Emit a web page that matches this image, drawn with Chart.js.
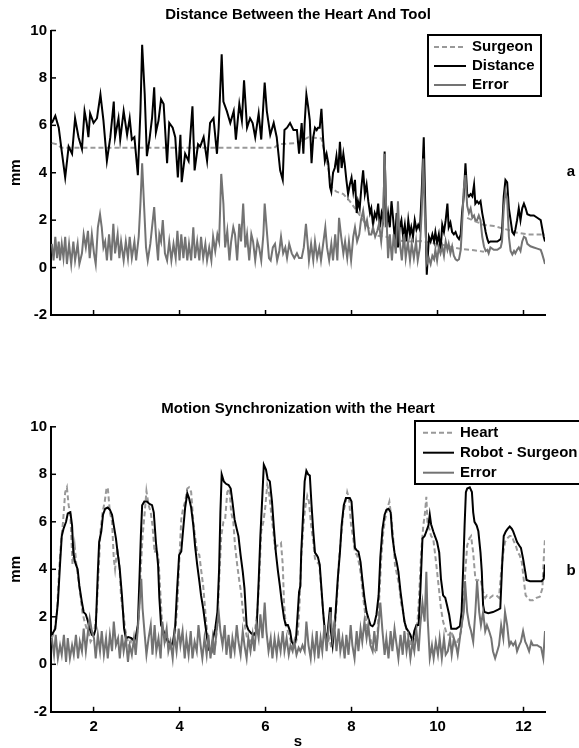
<!DOCTYPE html>
<html>
<head>
<meta charset="utf-8">
<title>Distance Between the Heart And Tool / Motion Synchronization with the Heart</title>
<script src="https://cdn.jsdelivr.net/npm/chart.js@4.4.1/dist/chart.umd.min.js"></script>
<style>
  html, body { margin: 0; padding: 0; background: #fff; }
  #wrap { position: relative; width: 579px; height: 748px; overflow: hidden; }
  .panel { position: absolute; left: 0; width: 579px; height: 374px; }
</style>
</head>
<body>
<div id="wrap">
  <div class="panel" style="top:0"><canvas id="chartA" width="579" height="374"></canvas></div>
  <div class="panel" style="top:374px"><canvas id="chartB" width="579" height="374"></canvas></div>
</div>
<script>
// ---- data ----
const xTicks = [2, 4, 6, 8, 10, 12];

// panel a: surgeon (dashed), distance (black), error (grey)
const surgT = [1.03, 1.15, 1.25, 1.35, 2.50, 4.00, 5.50, 6.20, 6.30, 6.70,
  6.90, 7.00, 7.30, 7.34, 7.46, 7.53, 7.65, 7.81, 7.96, 8.12,
  8.27, 8.43, 8.58, 8.81, 9.05, 9.28, 9.61, 10.07, 10.38, 10.61,
  10.85, 11.08, 11.08, 10.69, 10.85, 11.08, 11.31, 11.62, 11.85, 12.09, 12.50];
const surgV = [5.25, 5.2, 5.05, 5.05, 5.05, 5.05, 5.05, 5.05, 5.2, 5.25,
  5.4, 5.5, 5.45, 5.1, 4.2, 3.4, 3.2, 3.1, 2.8, 2.4,
  2.0, 1.6, 1.35, 1.3, 1.15, 1.1, 1.12, 0.98, 0.84, 0.77,
  0.73, 0.67, null, 2.1, 1.97, 1.8, 1.75, 1.6, 1.47, 1.4, 1.4];

const distT = [1.03, 1.11, 1.19, 1.26, 1.34, 1.42, 1.50, 1.57, 1.65, 1.73,
  1.79, 1.84, 1.88, 1.92, 2.00, 2.08, 2.16, 2.23, 2.31, 2.39,
  2.47, 2.50, 2.58, 2.62, 2.70, 2.78, 2.84, 2.89, 2.95, 3.03,
  3.09, 3.13, 3.19, 3.24, 3.30, 3.36, 3.41, 3.45, 3.51, 3.57,
  3.63, 3.71, 3.76, 3.84, 3.90, 3.96, 4.02, 4.05, 4.13, 4.21,
  4.30, 4.35, 4.43, 4.48, 4.56, 4.64, 4.71, 4.79, 4.87, 4.91,
  4.98, 5.02, 5.10, 5.18, 5.26, 5.31, 5.39, 5.45, 5.50, 5.57,
  5.64, 5.70, 5.76, 5.84, 5.90, 5.98, 6.03, 6.11, 6.19, 6.26,
  6.34, 6.40, 6.44, 6.50, 6.57, 6.65, 6.73, 6.78,
  6.84, 6.88, 6.91, 6.95, 6.99, 7.03, 7.07, 7.11, 7.15, 7.19,
  7.22, 7.26, 7.30, 7.34, 7.38, 7.42, 7.46, 7.50, 7.53, 7.57,
  7.61, 7.65, 7.69, 7.73, 7.77, 7.81, 7.84, 7.88, 7.92, 7.96,
  8.00, 8.04, 8.08, 8.12, 8.15, 8.19, 8.23, 8.27, 8.31, 8.35,
  8.39, 8.43, 8.46, 8.50, 8.54, 8.58, 8.62, 8.66, 8.70, 8.74,
  8.77, 8.81, 8.85, 8.89, 8.93, 8.97, 9.01, 9.05, 9.08, 9.12,
  9.16, 9.20, 9.24, 9.28, 9.32, 9.36, 9.39, 9.43, 9.47, 9.51,
  9.55, 9.59, 9.63, 9.68, 9.71, 9.75,
  9.80, 9.84, 9.88, 9.92, 9.95, 9.99, 10.03, 10.07, 10.11, 10.15,
  10.19, 10.23, 10.26, 10.30, 10.34, 10.38, 10.42, 10.46, 10.50, 10.54,
  10.57, 10.61, 10.65, 10.69, 10.73, 10.77, 10.81, 10.85, 10.88, 10.92,
  10.96, 11.00, 11.04, 11.08, 11.12, 11.16, 11.19, 11.23, 11.31, 11.39,
  11.47, 11.50, 11.54, 11.58, 11.62, 11.66, 11.70, 11.74, 11.78, 11.81,
  11.85, 11.89, 11.93, 11.97, 12.01, 12.05, 12.09, 12.16, 12.24, 12.32,
  12.40, 12.43, 12.47, 12.50];
const distV = [6.1, 6.4, 5.9, 4.9, 3.8, 5.1, 4.8, 6.3, 5.5, 5.0,
  6.6, 6.1, 5.5, 6.5, 6.1, 6.3, 7.3, 6.2, 4.5, 5.5,
  7.0, 5.5, 6.3, 5.4, 6.6, 5.6, 6.3, 5.4, 5.5, 3.9,
  6.6, 9.4, 7.3, 4.7, 5.4, 6.3, 7.6, 5.7, 6.2, 7.1,
  6.9, 4.4, 6.1, 5.9, 5.5, 3.8, 5.6, 3.6, 4.8, 4.5,
  6.8, 4.1, 5.2, 5.1, 5.5, 4.5, 6.1, 6.3, 4.8, 5.9,
  9.0, 7.0, 6.6, 6.1, 6.6, 5.4, 6.9, 6.2, 7.9, 5.9,
  6.3, 6.1, 5.5, 6.5, 5.4, 7.8, 6.6, 5.6, 6.1, 5.5,
  4.1, 3.7, 5.8, 5.9, 6.1, 5.8, 5.8, 4.8,
  6.1, 4.8, 6.1, 7.3, 6.8, 6.2, 4.4, 5.5, 5.9, 5.8,
  5.9, 5.9, 6.7, 5.4, 4.5, 4.8, 4.4, 3.4, 3.2, 4.0,
  4.2, 4.7, 4.0, 5.3, 4.2, 4.8, 4.4, 3.7, 3.1, 3.5,
  3.8, 3.2, 3.7, 2.3, 2.8, 2.5, 3.4, 4.1, 3.1, 3.5,
  2.8, 2.3, 2.5, 1.8, 2.3, 2.1, 2.7, 1.7, 2.3, 2.0,
  4.9, 1.7, 2.3, 1.7, 2.8, 2.0, 1.1, 2.3, 0.85, 1.7,
  2.0, 1.3, 1.8, 1.1, 2.0, 1.4, 1.7, 1.3, 2.0, 1.6,
  1.8, 1.6, 3.1, 5.5, 3.0, -0.3,
  1.3, 1.1, 1.4, 1.1, 1.5, 1.05, 1.4, 0.7, 1.8, 1.5,
  2.0, 2.7, 1.7, 1.9, 1.5, 1.4, 1.5, 1.3, 1.2, 1.4,
  2.3, 3.0, 4.4, 3.1, 3.0, 3.1, 3.0, 3.5, 2.7, 2.8,
  2.7, 2.8, 2.3, 1.9, 1.5, 1.2, 1.05, 1.1, 1.1, 1.1,
  1.2, 1.5, 3.0, 3.7, 3.6, 2.5, 2.0, 1.5, 1.4, 1.6,
  2.0, 2.5, 2.0, 2.5, 2.7, 2.5, 2.25, 2.2, 2.2, 2.1,
  2.0, 1.7, 1.3, 1.1];

const errAT = [1.03, 1.07, 1.11, 1.15, 1.19, 1.22, 1.26, 1.30, 1.34, 1.38,
  1.43, 1.48, 1.53, 1.57, 1.63, 1.67, 1.73, 1.77, 1.82, 1.87,
  1.91, 1.96, 2.01, 2.05, 2.10, 2.15, 2.19, 2.23, 2.27, 2.31,
  2.36, 2.41, 2.46, 2.50, 2.56, 2.60, 2.64, 2.70, 2.75, 2.80,
  2.84, 2.89, 2.95, 2.99, 3.05, 3.09, 3.13, 3.17, 3.22, 3.26,
  3.32, 3.36, 3.41, 3.45, 3.50, 3.53, 3.57, 3.61, 3.66, 3.71,
  3.76, 3.81, 3.86, 3.91, 3.95, 4.00, 4.04, 4.09, 4.13, 4.18,
  4.22, 4.27, 4.32, 4.36, 4.41, 4.46, 4.50, 4.55, 4.60, 4.64,
  4.69, 4.74, 4.78, 4.83, 4.88, 4.92, 4.97, 5.02, 5.06, 5.11,
  5.16, 5.20, 5.25, 5.29, 5.34, 5.39, 5.43, 5.48, 5.53, 5.57,
  5.62, 5.67, 5.71, 5.76, 5.81, 5.85, 5.90, 5.95, 5.98, 6.03,
  6.08, 6.12, 6.17, 6.22, 6.27, 6.32, 6.36, 6.41, 6.46, 6.50,
  6.55, 6.61, 6.67, 6.73, 6.78,
  6.84, 6.89, 6.94, 6.98, 7.01, 7.06, 7.11, 7.15, 7.20, 7.25,
  7.29, 7.34, 7.39, 7.43, 7.48, 7.53, 7.57, 7.62, 7.67, 7.71,
  7.76, 7.81, 7.85, 7.90, 7.94, 7.99, 8.04, 8.08, 8.13, 8.18,
  8.22, 8.27, 8.32, 8.36, 8.41, 8.46, 8.50, 8.55, 8.60, 8.64,
  8.69, 8.74, 8.77, 8.81, 8.85, 8.89, 8.94, 8.98, 9.03, 9.08,
  9.12, 9.17, 9.22, 9.26, 9.31, 9.36, 9.40, 9.45, 9.50, 9.54,
  9.59, 9.63, 9.67, 9.71,
  9.76, 9.80, 9.84, 9.88, 9.92, 9.95, 9.99, 10.03, 10.07, 10.11,
  10.15, 10.19, 10.23, 10.26, 10.30, 10.34, 10.38, 10.42, 10.46, 10.50,
  10.54, 10.57, 10.61, 10.65, 10.69, 10.73, 10.77, 10.81, 10.85, 10.88,
  10.92, 10.96, 11.00, 11.04, 11.08, 11.12, 11.16, 11.19, 11.23, 11.31,
  11.39, 11.47, 11.50, 11.54, 11.58, 11.62, 11.66, 11.70, 11.74, 11.78,
  11.81, 11.85, 11.89, 11.93, 11.97, 12.01, 12.05, 12.09, 12.16, 12.24,
  12.32, 12.40, 12.43, 12.47, 12.50];
const errAV = [1.0, 0.3, 1.3, 0.4, 1.1, 0.3, 1.0, 0.4, 1.3, 0.15,
  1.0, 0.15, 1.1, 0.3, 1.0, 0.15, 0.6, 1.4, 0.85, 1.55,
  0.4, 1.4, 0.6, 0.15, 1.7, 2.25, 1.7, 0.85, 1.1, 0.3,
  1.4, 0.3, 1.85, 0.6, 1.4, 0.4, 1.1, 0.3, 1.1, 0.4,
  1.3, 0.4, 1.1, 0.3, 1.3, 2.7, 4.4, 2.8, 0.85, 0.3,
  1.0, 1.7, 2.55, 1.4, 0.3, 1.4, 1.1, 2.0, 0.6, 0.3,
  1.1, 0.3, 1.0, 0.4, 1.55, 0.3, 1.4, 0.4, 1.3, 0.3,
  1.0, 0.3, 1.7, 0.4, 1.1, 0.3, 1.3, 0.4, 1.0, 0.3,
  0.85, 0.3, 1.3, 0.7, 1.4, 1.1, 3.95, 2.7, 0.85, 1.55,
  0.3, 1.1, 1.7, 1.4, 0.3, 1.85, 1.1, 2.7, 0.85, 1.4,
  0.3, 1.4, 1.1, 0.3, 1.1, 0.85, 0.3, 1.4, 2.7, 1.55,
  0.4, 0.3, 0.85, 1.0, 0.3, 0.7, 1.3, 0.6, 0.85, 0.4,
  1.0, 0.6, 0.4, 0.6, 0.4,
  0.4, 0.85, 1.85, 1.0, 0.3, 1.0, 0.3, 1.1, 0.4, 0.85,
  0.3, 1.0, 1.7, 0.85, 0.3, 1.0, 0.3, 1.4, 0.3, 2.1,
  1.3, 0.6, 1.1, 0.4, 1.1, 0.3, 1.3, 1.7, 1.1, 1.4,
  2.0, 2.4, 1.7, 2.0, 1.4, 1.4, 1.7, 1.3, 1.55, 1.85,
  1.1, 2.1, 4.8, 2.25, 0.4, 1.4, 0.3, 1.4, 0.6, 2.8,
  1.1, 0.3, 1.4, 0.4, 1.1, 0.3, 1.0, 0.4, 1.1, 0.3,
  0.85, 2.25, 4.6, 2.0,
  0.2, 0.4, 0.15, 0.5, 0.35, 0.75, 0.3, 0.85, 0.6, 0.9,
  0.5, 1.1, 0.75, 1.0, 0.6, 0.9, 0.5, 0.35, 0.3, 0.35,
  0.75, 1.75, 3.3, 3.9, 2.6, 2.3, 2.5, 2.1, 2.2, 2.0,
  2.0, 2.2, 2.0, 1.3, 0.9, 0.7, 0.75, 0.6, 0.85, 0.75,
  0.75, 0.85, 1.1, 2.5, 3.2, 2.9, 1.3, 0.7, 0.55, 0.7,
  0.6, 0.75, 0.85, 0.7, 1.1, 1.3, 1.25, 1.0, 0.9, 0.85,
  0.8, 0.75, 0.6, 0.35, 0.15];

// panel b: heart (dashed), robot - surgeon (black), error (grey)
const heartT = [1.03, 1.09, 1.15, 1.20, 1.25, 1.29, 1.34, 1.38, 1.42, 1.46,
  1.51, 1.56, 1.60, 1.65, 1.70, 1.74, 1.79, 1.84, 1.88, 1.93,
  1.98, 2.02, 2.07, 2.12, 2.16, 2.21, 2.26, 2.30, 2.33, 2.38,
  2.43, 2.47, 2.50, 2.55, 2.60, 2.64, 2.69, 2.74, 2.78, 2.83,
  2.89, 2.95, 3.00, 3.05, 3.09, 3.14, 3.19, 3.23, 3.28, 3.33,
  3.37, 3.42, 3.46, 3.51, 3.56, 3.60, 3.67, 3.73, 3.79, 3.85,
  3.90, 3.95, 3.99, 4.04, 4.08, 4.13, 4.18, 4.22, 4.27, 4.32,
  4.36, 4.41, 4.46, 4.50, 4.55, 4.60, 4.64, 4.69, 4.74, 4.78,
  4.83, 4.88, 4.92, 4.97, 5.02, 5.06, 5.11, 5.16, 5.20, 5.25,
  5.29, 5.34, 5.39, 5.43, 5.48, 5.53, 5.57, 5.64, 5.70, 5.76,
  5.81, 5.85, 5.90, 5.95, 5.99, 6.04, 6.08, 6.13, 6.18, 6.22,
  6.27, 6.32, 6.36, 6.40, 6.43, 6.47, 6.52, 6.57, 6.61, 6.66,
  6.71, 6.75, 6.79, 6.83,
  6.88, 6.92, 6.97, 7.01, 7.06, 7.11, 7.15, 7.20, 7.25, 7.29,
  7.34, 7.39, 7.43, 7.48, 7.53, 7.57, 7.62, 7.67, 7.71, 7.76,
  7.81, 7.85, 7.90, 7.94, 7.99, 8.04, 8.08, 8.13, 8.18, 8.22,
  8.27, 8.32, 8.36, 8.41, 8.46, 8.50, 8.55, 8.60, 8.64, 8.69,
  8.74, 8.78, 8.83, 8.88, 8.92, 8.97, 9.01, 9.06, 9.11, 9.15,
  9.20, 9.25, 9.29, 9.34, 9.39, 9.43, 9.48, 9.53, 9.57, 9.62,
  9.67, 9.71, 9.74, 9.77, 9.81, 9.85, 9.90, 9.94, 9.99, 10.04,
  10.08, 10.13, 10.18, 10.22, 10.27, 10.32, 10.36, 10.41, 10.46, 10.50,
  10.55, 10.60, 10.64, 10.69, 10.74, 10.78, 10.83, 10.88, 10.92, 10.97,
  11.01, 11.06, 11.11, 11.15, 11.22, 11.29, 11.37, 11.43, 11.48, 11.53,
  11.57, 11.62, 11.68, 11.73, 11.77, 11.82, 11.87, 11.91, 11.96, 12.01,
  12.05, 12.10, 12.15, 12.22, 12.30, 12.38, 12.44, 12.47, 12.50];
const heartV = [1.1, 1.4, 2.2, 4.0, 5.3, 6.0, 7.25, 7.45, 6.7, 6.3,
  4.2, 5.0, 4.2, 3.5, 2.8, 2.2, 1.8, 1.5, 1.4, 0.95,
  1.1, 1.4, 2.2, 4.0, 5.6, 6.4, 6.85, 7.4, 7.45, 6.4,
  6.0, 4.45, 4.0, 4.9, 4.2, 2.8, 2.2, 1.4, 1.1, 0.7,
  1.1, 0.95, 1.1, 1.95, 3.75, 5.4, 6.4, 7.3, 6.7, 6.4,
  5.85, 4.7, 4.9, 4.45, 2.8, 1.5, 0.95, 1.1, 0.7, 0.95,
  1.4, 2.5, 4.2, 6.1, 6.55, 6.85, 7.4, 7.45, 7.25, 6.0,
  5.4, 4.7, 4.6, 4.0, 3.3, 2.2, 1.4, 0.8, 0.4, 0.55,
  0.8, 1.65, 3.5, 5.4, 6.0, 6.1, 7.25, 7.4, 6.4, 6.0,
  5.0, 4.2, 3.5, 3.05, 2.1, 1.5, 1.1, 0.95, 1.1, 1.5,
  2.2, 3.5, 5.6, 6.0, 6.55, 7.55, 7.25, 6.4, 5.6, 4.9,
  5.0, 5.0, 5.1, 4.2, 2.6, 1.65, 1.4, 1.1, 0.8, 0.7,
  0.95, 1.24, 2.5, 4.45,
  5.85, 6.55, 7.1, 6.85, 5.85, 5.15, 4.45, 4.3, 4.2, 3.3,
  2.2, 1.1, 0.8, 1.1, 0.7, 1.1, 1.65, 3.05, 4.45, 5.4,
  6.4, 6.7, 7.25, 7.0, 5.85, 5.3, 4.7, 4.6, 4.2, 3.75,
  2.8, 2.1, 1.5, 1.24, 0.95, 0.7, 0.55, 1.1, 2.6, 4.45,
  5.6, 6.1, 6.55, 6.85, 6.3, 5.3, 4.2, 3.75, 3.3, 2.6,
  2.2, 1.65, 1.4, 1.1, 0.8, 0.95, 1.24, 1.65, 2.8, 4.7,
  5.85, 6.4, 7.05, 5.85, 5.7, 5.4, 5.3, 4.7, 3.9, 3.05,
  2.35, 1.8, 1.5, 1.24, 1.24, 1.4, 1.1, 0.8, 0.95, 1.1,
  1.4, 2.2, 3.75, 5.0, 5.3, 5.4, 4.7, 3.6, 3.5, 3.6,
  3.5, 3.05, 2.8, 2.9, 2.8, 2.9, 2.9, 2.8, 3.9, 4.7,
  5.15, 5.3, 5.4, 5.4, 5.2, 5.0, 4.7, 4.6, 4.3, 3.5,
  2.9, 2.8, 2.7, 2.7, 2.8, 2.85, 3.2, 4.4, 5.3];

const robotT = [1.03, 1.11, 1.17, 1.22, 1.26, 1.30, 1.36, 1.40, 1.46, 1.50,
  1.53, 1.57, 1.63, 1.67, 1.73, 1.77, 1.82, 1.87, 1.91, 1.96,
  2.01, 2.05, 2.10, 2.13, 2.18, 2.22, 2.27, 2.33, 2.38, 2.43,
  2.47, 2.52, 2.56, 2.61, 2.66, 2.71, 2.75, 2.81, 2.88, 2.94,
  2.98, 3.03, 3.07, 3.10, 3.13, 3.18, 3.24, 3.30, 3.36, 3.40,
  3.45, 3.50, 3.53, 3.57, 3.63, 3.68, 3.74, 3.81, 3.85, 3.90,
  3.94, 3.99, 4.04, 4.08, 4.13, 4.18, 4.22, 4.27, 4.32, 4.36,
  4.41, 4.46, 4.50, 4.55, 4.60, 4.64, 4.69, 4.74, 4.78, 4.83,
  4.88, 4.92, 4.95, 4.98, 5.03, 5.08, 5.14, 5.19, 5.23, 5.28,
  5.33, 5.37, 5.42, 5.47, 5.51, 5.56, 5.60, 5.67, 5.73, 5.79,
  5.84, 5.88, 5.93, 5.96, 6.01, 6.05, 6.10, 6.15, 6.19, 6.24,
  6.29, 6.33, 6.38, 6.43, 6.47, 6.52, 6.57, 6.61, 6.66, 6.71,
  6.75, 6.78, 6.81, 6.83, 6.88, 6.91, 6.95, 6.99, 7.03, 7.07,
  7.11, 7.15, 7.19, 7.22, 7.26, 7.30, 7.34, 7.38, 7.42, 7.46,
  7.50, 7.52, 7.56, 7.59, 7.63, 7.68, 7.73, 7.77, 7.82, 7.87,
  7.91, 7.96, 8.00, 8.04, 8.08, 8.12, 8.16, 8.21, 8.25, 8.30,
  8.35, 8.39, 8.44, 8.49, 8.53, 8.58, 8.63, 8.67, 8.72, 8.77,
  8.81, 8.86, 8.91, 8.95, 9.00, 9.05, 9.09, 9.14, 9.19, 9.23,
  9.28, 9.32, 9.37, 9.42, 9.46, 9.51, 9.56, 9.60, 9.65, 9.70,
  9.74, 9.79, 9.82, 9.85, 9.90, 9.94, 9.99, 10.04, 10.08, 10.13,
  10.18, 10.22, 10.27, 10.32, 10.36, 10.44, 10.52, 10.56, 10.60, 10.63,
  10.66, 10.69, 10.75, 10.80, 10.83, 10.86, 10.91, 10.95, 11.00, 11.03,
  11.06, 11.09, 11.18, 11.29, 11.41, 11.46, 11.51, 11.54, 11.59, 11.63,
  11.68, 11.73, 11.76, 11.81, 11.85, 11.90, 11.94, 11.99, 12.04, 12.07,
  12.15, 12.24, 12.34, 12.42, 12.47, 12.50];
const robotV = [1.24, 1.5, 2.6, 4.2, 5.4, 5.7, 6.0, 6.35, 6.4, 5.85,
  4.7, 4.3, 4.0, 3.3, 2.6, 2.2, 2.1, 1.8, 1.5, 1.24,
  1.24, 1.5, 3.9, 5.15, 5.6, 6.3, 6.55, 6.6, 6.5, 6.3,
  5.85, 5.3, 4.7, 4.0, 2.9, 1.5, 1.1, 1.15, 1.1, 1.0,
  1.15, 1.65, 3.75, 5.4, 6.7, 6.85, 6.85, 6.75, 6.7, 6.4,
  5.15, 4.2, 2.8, 1.65, 1.4, 1.1, 0.95, 0.8, 0.95, 1.65,
  3.05, 4.6, 4.75, 5.6, 6.6, 7.2, 7.0, 6.6, 5.85, 5.0,
  4.2, 3.5, 2.9, 2.35, 1.65, 1.1, 0.6, 0.55, 1.1, 1.5,
  2.2, 4.0, 6.4, 8.0, 7.7, 7.6, 7.55, 7.4, 6.85, 6.1,
  5.7, 5.4, 4.6, 3.9, 3.2, 1.65, 1.45, 1.3, 1.24, 1.4,
  3.5, 5.4, 7.25, 8.4, 8.2, 7.8, 7.7, 6.85, 5.85, 4.7,
  3.9, 3.35, 2.6, 1.95, 1.65, 1.65, 1.4, 0.95, 0.8, 1.1,
  2.2, 3.05, 3.3, 4.7, 6.55, 7.7, 8.15, 8.0, 7.95, 6.7,
  5.6, 4.7, 4.6, 4.5, 4.2, 3.2, 2.2, 1.4, 0.95, 1.65,
  2.4, 1.4, 0.8, 1.4, 2.2, 3.6, 4.7, 5.85, 6.7, 7.0,
  7.0, 7.0, 6.85, 5.85, 4.9, 4.8, 4.75, 4.3, 3.6, 2.8,
  2.2, 1.95, 1.65, 1.6, 1.7, 2.1, 2.9, 4.5, 5.7, 6.3,
  6.5, 6.55, 6.4, 5.4, 4.7, 4.3, 3.9, 3.05, 2.35, 1.8,
  1.5, 1.4, 1.24, 0.95, 1.4, 1.65, 1.65, 3.05, 5.3, 5.4,
  5.6, 5.85, 6.3, 5.9, 5.6, 5.4, 5.15, 4.7, 3.6, 2.9,
  2.8, 2.5, 2.1, 1.5, 1.5, 1.5, 1.6, 2.2, 4.2, 5.85,
  7.25, 7.4, 7.45, 7.25, 6.4, 6.0, 5.85, 5.6, 4.7, 3.9,
  2.5, 2.2, 2.15, 2.2, 2.3, 2.35, 4.45, 5.4, 5.6, 5.7,
  5.8, 5.7, 5.6, 5.35, 5.15, 5.0, 4.9, 4.45, 3.9, 3.55,
  3.5, 3.5, 3.5, 3.5, 3.6, 4.2];

const errBT = [1.03, 1.08, 1.12, 1.17, 1.22, 1.26, 1.31, 1.36, 1.40, 1.45,
  1.50, 1.54, 1.59, 1.64, 1.68, 1.73, 1.77, 1.82, 1.87, 1.91,
  1.96, 2.01, 2.05, 2.10, 2.15, 2.19, 2.24, 2.29, 2.33, 2.38,
  2.43, 2.47, 2.52, 2.57, 2.61, 2.66, 2.70, 2.75, 2.80, 2.84,
  2.89, 2.94, 2.98, 3.03, 3.08, 3.11, 3.14, 3.19, 3.23, 3.28,
  3.33, 3.37, 3.42, 3.46, 3.51, 3.56, 3.60, 3.65, 3.70, 3.74,
  3.79, 3.84, 3.88, 3.93, 3.98, 4.02, 4.07, 4.12, 4.16, 4.21,
  4.26, 4.30, 4.35, 4.40, 4.44, 4.49, 4.53, 4.58, 4.63, 4.67,
  4.72, 4.77, 4.81, 4.86, 4.91, 4.95, 5.00, 5.05, 5.09, 5.14,
  5.19, 5.23, 5.28, 5.33, 5.37, 5.42, 5.47, 5.51, 5.56, 5.60,
  5.65, 5.70, 5.74, 5.79, 5.84, 5.88, 5.93, 5.98, 6.02, 6.07,
  6.12, 6.16, 6.21, 6.26, 6.30, 6.35, 6.40, 6.44, 6.49, 6.54,
  6.58, 6.63, 6.67, 6.72, 6.77, 6.81,
  6.86, 6.91, 6.95, 7.00, 7.05, 7.09, 7.14, 7.19, 7.23, 7.28,
  7.32, 7.37, 7.42, 7.46, 7.51, 7.56, 7.60, 7.65, 7.70, 7.74,
  7.79, 7.84, 7.88, 7.93, 7.98, 8.02, 8.07, 8.12, 8.16, 8.21,
  8.25, 8.30, 8.35, 8.39, 8.44, 8.49, 8.53, 8.58, 8.63, 8.67,
  8.72, 8.77, 8.81, 8.86, 8.91, 8.95, 9.00, 9.05, 9.09, 9.14,
  9.19, 9.23, 9.28, 9.32, 9.37, 9.42, 9.46, 9.51, 9.56, 9.60,
  9.65, 9.70, 9.74, 9.77, 9.82, 9.87, 9.91, 9.96, 10.01, 10.05,
  10.10, 10.15, 10.19, 10.24, 10.29, 10.33, 10.38, 10.43, 10.47, 10.52,
  10.56, 10.61, 10.64, 10.69, 10.74, 10.78, 10.83, 10.88, 10.92, 10.97,
  11.01, 11.06, 11.11, 11.15, 11.20, 11.25, 11.29, 11.34, 11.39, 11.43,
  11.48, 11.53, 11.57, 11.62, 11.67, 11.71, 11.76, 11.81, 11.85, 11.90,
  11.94, 11.99, 12.04, 12.08, 12.13, 12.18, 12.22, 12.27, 12.32, 12.36,
  12.41, 12.46, 12.49, 12.50];
const errBV = [1.1, 0.4, 1.24, 0.25, 0.8, 0.4, 1.24, 0.1, 1.1, 0.25,
  0.8, 0.4, 1.24, 0.25, 0.95, 0.55, 1.5, 0.55, 1.4, 1.95,
  1.4, 1.1, 0.25, 1.24, 0.55, 1.4, 0.4, 1.1, 0.25, 1.24,
  0.55, 1.8, 0.8, 1.1, 0.25, 1.24, 0.55, 1.1, 0.1, 0.8,
  0.4, 1.1, 0.4, 1.5, 2.8, 3.6, 2.35, 1.24, 0.4, 1.1,
  1.65, 0.4, 1.65, 0.55, 1.1, 0.25, 1.8, 0.95, 1.5, 0.55,
  0.95, 0.25, 1.24, 0.55, 1.5, 0.8, 1.4, 0.25, 1.1, 0.4,
  1.4, 0.25, 0.95, 0.55, 1.65, 0.8, 0.25, 1.1, 0.4, 1.24,
  0.25, 1.1, 0.4, 1.4, 2.2, 1.4, 0.8, 1.65, 0.4, 1.24,
  0.25, 1.1, 0.55, 1.65, 0.95, 0.4, 1.4, 0.8, 0.25, 1.1,
  0.55, 1.24, 0.55, 1.65, 1.1, 2.1, 1.1, 2.6, 1.4, 0.55,
  1.1, 0.25, 1.1, 0.4, 1.1, 0.55, 1.4, 0.55, 1.1, 0.4,
  0.8, 0.55, 0.95, 0.4, 0.7, 0.55,
  0.8, 0.55, 1.8, 0.8, 0.25, 1.1, 0.4, 1.4, 0.25, 1.1,
  0.55, 1.65, 0.55, 1.4, 2.2, 1.1, 1.65, 0.55, 1.5, 0.55,
  1.1, 0.25, 1.24, 0.4, 1.65, 0.8, 0.25, 1.4, 0.55, 1.5,
  0.95, 1.8, 1.1, 1.65, 0.8, 0.55, 1.4, 0.55, 1.65, 2.6,
  1.4, 0.4, 1.1, 0.25, 1.4, 0.55, 1.5, 0.8, 0.25, 1.24,
  0.4, 1.4, 0.55, 1.1, 0.25, 0.95, 0.55, 1.4, 0.55, 1.65,
  2.6, 1.8, 3.9, 1.95, 0.25, 0.8, 0.25, 0.95, 0.4, 1.1,
  0.25, 1.1, 0.4, 0.55, 1.1, 0.4, 1.1, 0.8, 0.4, 1.1,
  1.65, 2.2, 3.5, 2.2, 1.65, 1.4, 0.95, 2.2, 3.5, 2.2,
  1.65, 2.2, 1.4, 1.65, 1.4, 1.1, 0.55, 0.25, 0.55, 0.8,
  1.65, 1.1, 2.2, 1.65, 0.8, 0.95, 0.8, 0.95, 0.55, 0.8,
  0.95, 1.4, 0.95, 0.8, 0.55, 0.95, 0.8, 0.8, 0.8, 0.75,
  0.7, 0.25, 1.1, 1.4];

// ---- drawing ----
const FONT = '"Liberation Sans", Arial, sans-serif';
Chart.defaults.font.family = FONT;
Chart.defaults.font.size = 15;
Chart.defaults.font.weight = 'bold';
Chart.defaults.color = '#000';

const DASH_GREY = '#999999';
const ERR_GREY = '#737373';

function pts(ts, vs) {
  return ts.map((t, i) => ({ x: t, y: vs[i] }));
}

// inward ticks, panel title, side letter and boxed legend
const panelDeco = {
  id: 'panelDeco',
  afterDraw(chart, args, o) {
    const { ctx, chartArea: ca, scales } = chart;
    ctx.save();
    ctx.strokeStyle = '#000';
    ctx.lineWidth = 1.5;
    scales.x.ticks.forEach(t => {
      const x = scales.x.getPixelForValue(t.value);
      ctx.beginPath(); ctx.moveTo(x, ca.bottom); ctx.lineTo(x, ca.bottom - 5); ctx.stroke();
    });
    scales.y.ticks.forEach(t => {
      const y = scales.y.getPixelForValue(t.value);
      ctx.beginPath(); ctx.moveTo(ca.left, y); ctx.lineTo(ca.left + 5, y); ctx.stroke();
    });

    ctx.fillStyle = '#000';
    ctx.font = 'bold 15px ' + FONT;
    ctx.textAlign = 'center';
    ctx.textBaseline = 'middle';
    ctx.fillText(o.title, (ca.left + ca.right) / 2, o.titleY);
    ctx.fillText(o.tag, o.tagX, o.tagY);

    const L = o.legend;
    ctx.fillStyle = '#fff';
    ctx.fillRect(L.x, L.y, L.w, L.h);
    ctx.lineWidth = 2;
    ctx.strokeStyle = '#000';
    ctx.strokeRect(L.x, L.y, L.w, L.h);
    ctx.textAlign = 'left';
    chart.data.datasets.forEach((ds, i) => {
      const y = L.rows[i];
      ctx.save();
      ctx.strokeStyle = ds.borderColor;
      ctx.lineWidth = ds.borderWidth;
      ctx.setLineDash(ds.borderDash || []);
      ctx.beginPath(); ctx.moveTo(L.lineX0, y); ctx.lineTo(L.lineX1, y); ctx.stroke();
      ctx.restore();
      ctx.fillStyle = '#000';
      ctx.fillText(ds.label, L.textX, y);
    });
    ctx.restore();
  }
};

function makeChart(id, sets, cfg) {
  return new Chart(document.getElementById(id), {
    type: 'line',
    data: {
      datasets: [
        { label: sets[0].label, data: sets[0].data, borderColor: DASH_GREY, borderWidth: 2, borderDash: [5, 3], order: 2 },
        { label: sets[1].label, data: sets[1].data, borderColor: '#000', borderWidth: 2, order: 1 },
        { label: sets[2].label, data: sets[2].data, borderColor: ERR_GREY, borderWidth: 2, order: 0 }
      ]
    },
    options: {
      responsive: false,
      animation: false,
      events: [],
      spanGaps: false,
      layout: { padding: { top: cfg.top, right: 34, left: 0, bottom: 0 } },
      elements: { point: { radius: 0 }, line: { tension: 0, fill: false } },
      plugins: {
        legend: { display: false },
        tooltip: { enabled: false },
        title: { display: false },
        panelDeco: cfg.deco
      },
      scales: {
        x: {
          type: 'linear',
          min: 1.01,
          max: 12.5,
          afterBuildTicks: s => { s.ticks = xTicks.map(v => ({ value: v })); },
          afterFit: s => { s.height = cfg.xHeight; },
          grid: { display: false, drawTicks: false },
          border: { display: true, color: '#000', width: 2 },
          ticks: { display: cfg.xLabels, padding: 6, maxRotation: 0, autoSkip: false },
          title: { display: !!cfg.xTitle, text: cfg.xTitle || '', padding: { top: 0, bottom: -3 } }
        },
        y: {
          min: -2,
          max: 10,
          afterFit: s => { s.width = 51; },
          grid: { display: false, drawTicks: false },
          border: { display: true, color: '#000', width: 2 },
          ticks: { stepSize: 2, padding: 4 },
          title: { display: true, text: 'mm', padding: { top: 7, bottom: 0 } }
        }
      }
    },
    plugins: [panelDeco]
  });
}

makeChart('chartA', [
  { label: 'Surgeon', data: pts(surgT, surgV) },
  { label: 'Distance', data: pts(distT, distV) },
  { label: 'Error', data: pts(errAT, errAV) }
], {
  top: 30.5, xHeight: 59, xLabels: false, xTitle: '',
  deco: {
    title: 'Distance Between the Heart And Tool', titleY: 14.5,
    tag: 'a', tagX: 571, tagY: 172,
    legend: { x: 428, y: 35, w: 113, h: 61, rows: [47, 66, 85], lineX0: 434, lineX1: 466, textX: 472 }
  }
});

makeChart('chartB', [
  { label: 'Heart', data: pts(heartT, heartV) },
  { label: 'Robot - Surgeon', data: pts(robotT, robotV) },
  { label: 'Error', data: pts(errBT, errBV) }
], {
  top: 52.8, xHeight: 36.2, xLabels: true, xTitle: 's',
  deco: {
    title: 'Motion Synchronization with the Heart', titleY: 35,
    tag: 'b', tagX: 571, tagY: 196.5,
    legend: { x: 415, y: 47, w: 175, h: 63, rows: [58.7, 78.7, 98.7], lineX0: 423, lineX1: 454, textX: 460 }
  }
});
</script>
</body>
</html>
